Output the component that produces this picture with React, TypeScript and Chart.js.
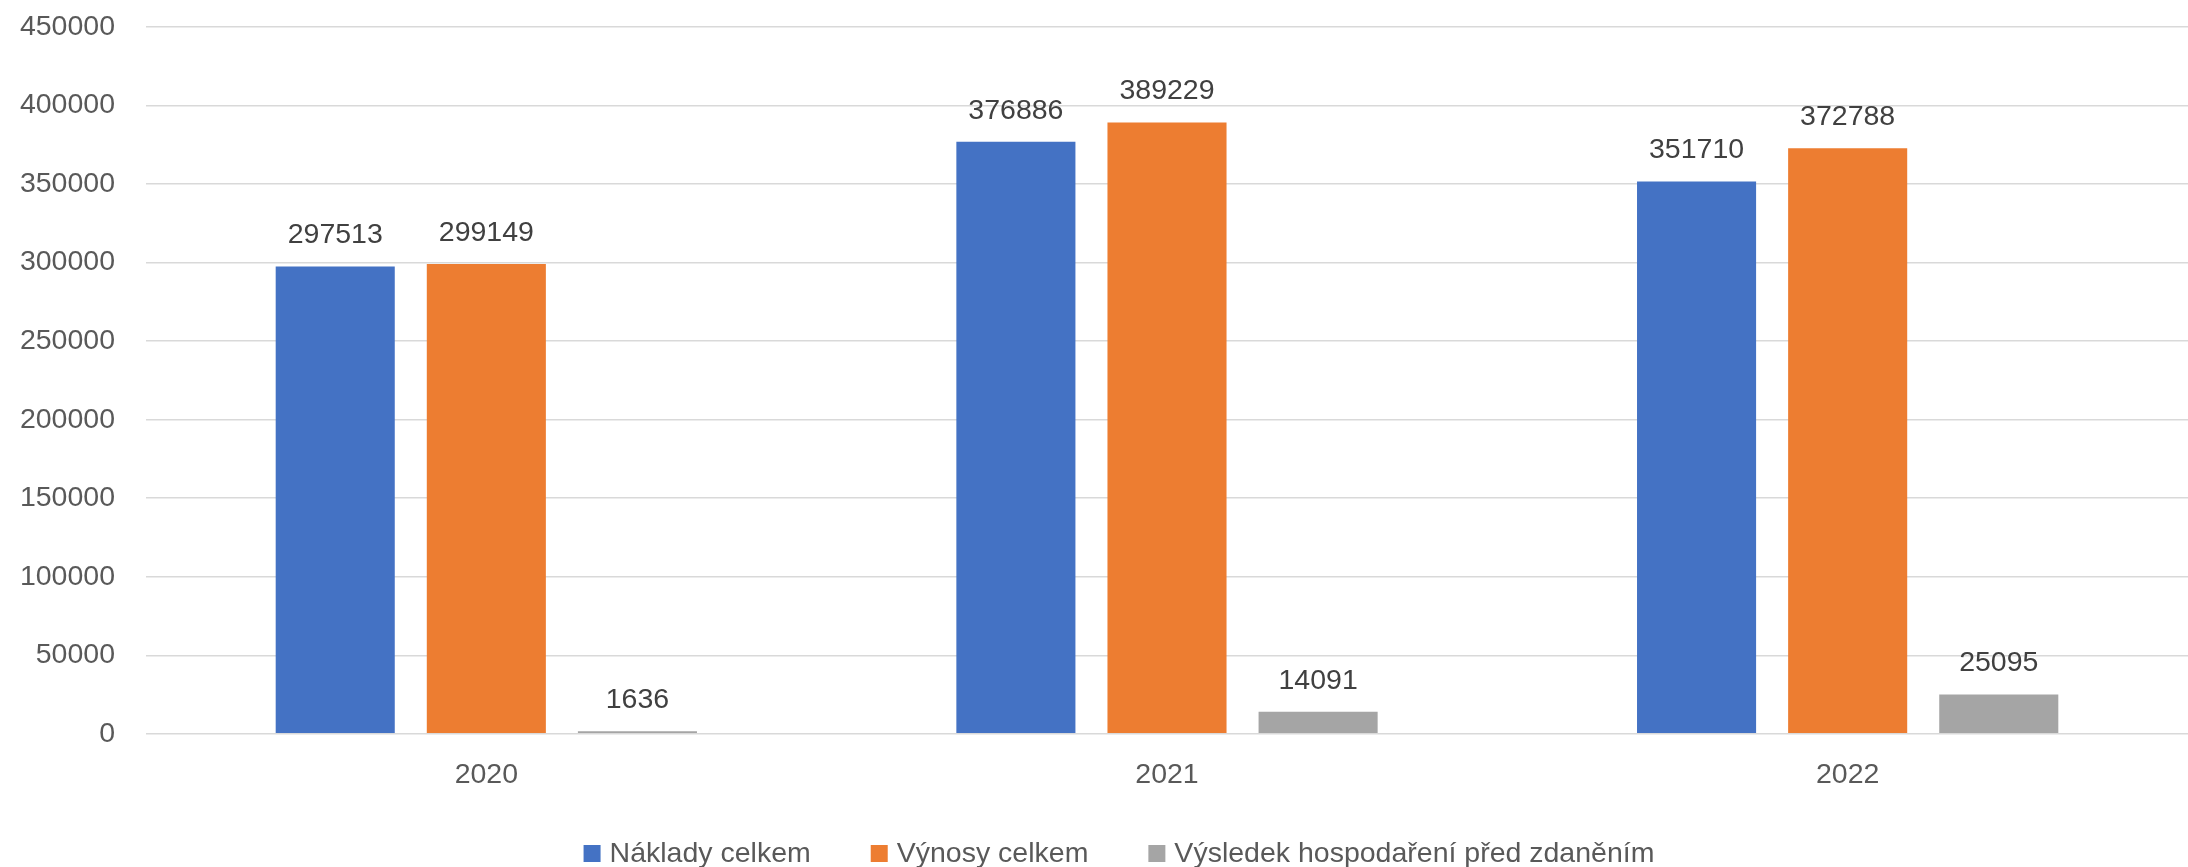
import React, { useEffect, useRef } from "react";
import { Chart, registerables } from "chart.js";

Chart.register(...registerables);

const categories = ["2020", "2021", "2022"];
const seriesNames = ["Náklady celkem", "Výnosy celkem", "Výsledek hospodaření před zdaněním"];
const nakladyCelkem = [297513, 376886, 351710];
const vynosyCelkem = [299149, 389229, 372788];
const vysledekHospodareni = [1636, 14091, 25095];
const seriesColors = ["#4472C4", "#ED7D31", "#A5A5A5"];
const yMin = 0;
const yMax = 450000;
const yStep = 50000;

const FONT = "'Liberation Sans', Arial, sans-serif";
const FONT_SIZE = 28.5;

const dataLabelPlugin = {
  id: "dataLabels",
  afterDatasetsDraw(chart: any) {
    const ctx = chart.ctx;
    ctx.save();
    ctx.font = `${FONT_SIZE}px ${FONT}`;
    ctx.fillStyle = "#404040";
    ctx.textAlign = "center";
    ctx.textBaseline = "middle";
    chart.data.datasets.forEach((ds: any, di: number) => {
      const meta = chart.getDatasetMeta(di);
      meta.data.forEach((bar: any, i: number) => {
        ctx.fillText(String(ds.data[i]), bar.x, bar.y - 31);
      });
    });
    ctx.restore();
  },
};

const legendPlugin = {
  id: "customLegend",
  afterDraw(chart: any) {
    const ctx = chart.ctx;
    ctx.save();
    ctx.font = `${FONT_SIZE}px ${FONT}`;
    const box = 17;
    const textGap = 9;
    const itemGap = 60;
    const items = chart.data.datasets.map((ds: any) => ({
      label: ds.label,
      color: ds.backgroundColor,
      w: box + textGap + ctx.measureText(ds.label).width,
    }));
    const total = items.reduce((s: number, it: any) => s + it.w, 0) + itemGap * (items.length - 1);
    let x = 1119 - total / 2;
    const cy = 853.5;
    ctx.textBaseline = "middle";
    ctx.textAlign = "left";
    items.forEach((it: any) => {
      ctx.fillStyle = it.color;
      ctx.fillRect(x, cy - box / 2, box, box);
      ctx.fillStyle = "#595959";
      ctx.fillText(it.label, x + box + textGap, cy + 1);
      x += it.w + itemGap;
    });
    ctx.restore();
  },
};

export default function App() {
  const canvasRef = useRef<HTMLCanvasElement | null>(null);

  useEffect(() => {
    if (!canvasRef.current) return;
    const seriesValues = [nakladyCelkem, vynosyCelkem, vysledekHospodareni];
    const chart = new Chart(canvasRef.current, {
      type: "bar",
      data: {
        labels: categories,
        datasets: seriesNames.map((name, i) => ({
          label: name,
          data: seriesValues[i],
          backgroundColor: seriesColors[i],
          borderWidth: 0,
          categoryPercentage: 0.666,
          barPercentage: 0.788,
        })),
      },
      options: {
        animation: false,
        responsive: false,
        devicePixelRatio: 1,
        layout: { padding: { top: 27, right: 0, bottom: 51, left: 0 } },
        plugins: {
          legend: { display: false },
          tooltip: { enabled: false },
        },
        scales: {
          x: {
            grid: { display: false, drawTicks: false },
            border: { display: false },
            ticks: {
              color: "#595959",
              font: { family: FONT, size: FONT_SIZE },
              padding: 24,
            },
          },
          y: {
            min: yMin,
            max: yMax,
            afterFit(scale: any) {
              scale.width = 146;
              scale.paddingTop = 0;
              scale.paddingBottom = 0;
            },
            grid: { color: "#D9D9D9", lineWidth: 1.5, drawTicks: false },
            border: { display: false },
            ticks: {
              stepSize: yStep,
              color: "#595959",
              font: { family: FONT, size: FONT_SIZE },
              padding: 31,
              callback: (v: any) => String(v),
            },
          },
        },
      },
      plugins: [dataLabelPlugin, legendPlugin],
    });
    return () => chart.destroy();
  }, []);

  return (
    <div style={{ position: "fixed", left: 0, top: 0, width: 2188, height: 867, background: "#fff" }}>
      <canvas ref={canvasRef} width={2188} height={867} style={{ width: 2188, height: 867, display: "block" }} />
    </div>
  );
}
